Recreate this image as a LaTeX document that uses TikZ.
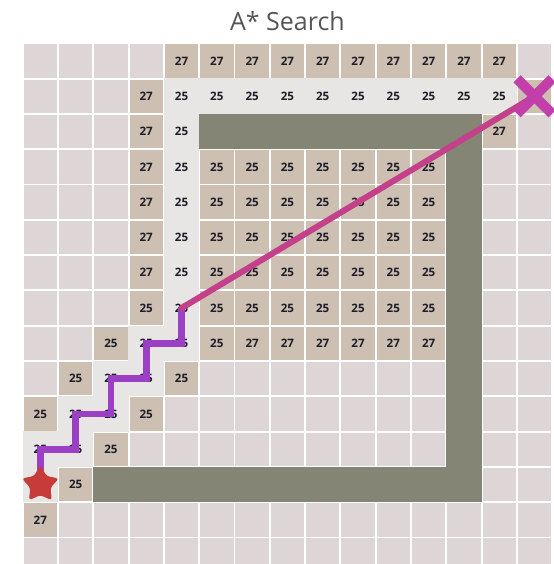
\documentclass[tikz,border=0pt]{standalone}
\usepackage{fontspec}
\setmainfont{Open Sans}
\usepackage{tikz}
\usetikzlibrary{positioning, shapes.geometric, shapes.misc}

\definecolor{plaincell}{HTML}{DDD5D6}
\definecolor{tancell}{HTML}{CDBFB2}
\definecolor{closedcell}{HTML}{E7E6E4}
\definecolor{wallgray}{HTML}{848574}
\definecolor{startred}{HTML}{C83B3B}
\definecolor{goalpink}{HTML}{C23FAA}
\definecolor{pathpurple}{HTML}{9B40C4}
\definecolor{linepink}{HTML}{C4408A}
\definecolor{titlegray}{HTML}{555555}
\definecolor{numtext}{HTML}{1E1E28}

\newcommand\numfont{\fontsize{5.8}{6}\selectfont\bfseries}

\begin{document}
\begin{tikzpicture}[
    x=17.65pt, y=-17.65pt,
    freecell/.style={
        fill=plaincell,
        minimum size=16.7pt,
        inner sep=0pt
    },
    frontier/.style={
        fill=tancell,
        minimum size=16.7pt,
        inner sep=0pt,
        font=\numfont,
        text=numtext
    },
    visited/.style={
        fill=closedcell,
        minimum size=17.8pt,
        inner sep=0pt,
        font=\numfont,
        text=numtext
    },
    wallblock/.style={
        fill=wallgray
    },
    route/.style={
        draw=pathpurple,
        line width=3.4pt,
        line join=miter
    },
    shortcut/.style={
        draw=linepink,
        line width=3pt,
        line cap=round
    }
]

\useasboundingbox (-0.643,-1.227) rectangle (15.051,14.751);

% Title
\node (title) at (7.5,-0.62) [font=\fontsize{12.5}{14}\selectfont, text=titlegray] {A* Search};

% Empty grid
\foreach \c in {0,...,14}
    \foreach \r in {0,...,14}
        \node (g-\c-\r) at (\c+.5,\r+.5) [freecell] {};

% Open cells (27)
\foreach \c in {4,...,13}
    \node (f-\c-0) at (\c+.5,0.5) [frontier] {27};
\foreach \r in {1,...,6}
    \node (f-3-\r) at (3.5,\r+.5) [frontier] {27};
\foreach \c in {6,...,11}
    \node (f-\c-8) at (\c+.5,8.5) [frontier] {27};
\node (f-13-2) at (13.5,2.5) [frontier] {27};
\node (f-0-13) at (0.5,13.5) [frontier] {27};

% Open cells (25)
\foreach \r in {3,...,7}
    \foreach \c in {5,...,11}
        \node (f-\c-\r) at (\c+.5,\r+.5) [frontier] {25};
\foreach \c/\r in {3/7, 2/8, 5/8, 1/9, 4/9, 0/10, 3/10, 2/11, 1/12}
    \node (f-\c-\r) at (\c+.5,\r+.5) [frontier] {25};
\node (f-14-1) at (14.5,1.5) [frontier] {};

% Closed cells
\foreach \c in {4,...,13}
    \node (v-\c-1) at (\c+.5,1.5) [visited] {25};
\foreach \r in {2,...,8}
    \node (v-4-\r) at (4.5,\r+.5) [visited] {25};
\foreach \c/\r in {3/8, 2/9, 3/9, 1/10, 2/10, 0/11, 1/11}
    \node (v-\c-\r) at (\c+.5,\r+.5) [visited] {25};
\node (v-0-12) at (0.5,12.5) [visited] {};

% Wall
\fill [wallblock] (5,2) rectangle (13,3);
\fill [wallblock] (12,3) rectangle (13,13);
\fill [wallblock] (2,12) rectangle (12,13);

% Path points
\coordinate (startpt) at (0.5,12.5);
\coordinate (s1) at (1.5,11.5);
\coordinate (s2) at (2.5,10.5);
\coordinate (s3) at (3.5,9.5);
\coordinate (s4) at (4.5,8.5);
\coordinate (turn) at (4.5,7.5);
\coordinate (goalpt) at (14.5,1.5);

% Found path
\draw [route] (startpt) |- (s1) |- (s2) |- (s3) |- (s4) -- (turn);
\draw [shortcut] (turn) -- (goalpt);

% Start and goal
\node (start) at (startpt) [star, star points=5, star point ratio=1.85, fill=startred, minimum size=19.5pt, inner sep=0pt, rounded corners=1.5pt] {};
\node (goal) at (goalpt) [cross out, draw=goalpink, line width=5pt, minimum size=12.5pt, inner sep=0pt] {};

\end{tikzpicture}
\end{document}
